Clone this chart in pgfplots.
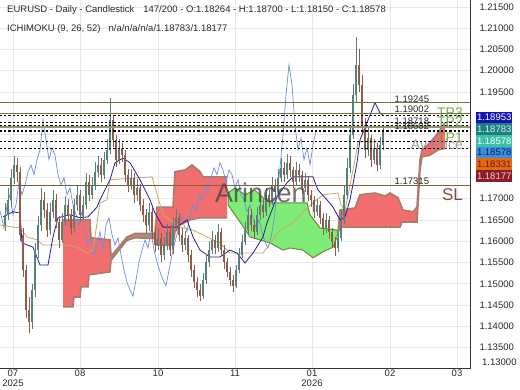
\documentclass[border=0pt]{standalone}
\usepackage{fontspec}
\setmainfont{Liberation Sans}
\usepackage{pgfplots}
\pgfplotsset{compat=1.18}
\usepackage{pgfplotstable}

\definecolor{upc}{RGB}{88,128,122}
\definecolor{dnc}{RGB}{142,92,72}
\definecolor{cloudred}{RGB}{242,110,110}
\definecolor{cloudgreen}{RGB}{128,236,120}
\definecolor{cloudline}{RGB}{168,124,104}
\definecolor{bandc}{RGB}{178,140,118}
\definecolor{greenline}{RGB}{100,140,60}
\definecolor{tenkanc}{RGB}{30,30,150}
\definecolor{kijunc}{RGB}{200,168,104}
\definecolor{chikouc}{RGB}{110,140,220}
\definecolor{olivel}{RGB}{110,120,50}
\definecolor{thickl}{RGB}{150,150,110}
\definecolor{slline}{RGB}{120,100,50}
\definecolor{gridc}{RGB}{232,232,232}
\definecolor{tpc}{RGB}{95,155,45}
\definecolor{slc}{RGB}{140,74,58}
\definecolor{txt}{RGB}{40,40,40}

\pgfplotstableread{
x o h l c
5 1.1640 1.1690 1.1625 1.1662
8 1.1662 1.1725 1.1650 1.1697
11 1.1697 1.1770 1.1680 1.1749
14 1.1749 1.1800 1.1735 1.1779
17 1.1779 1.1795 1.1740 1.1763
20 1.1763 1.1775 1.1600 1.1615
23 1.1615 1.1630 1.1515 1.1532
26 1.1532 1.1545 1.1420 1.1439
29 1.1439 1.1470 1.1385 1.1410
32 1.1410 1.1500 1.1395 1.1485
35 1.1485 1.1595 1.1470 1.1579
38 1.1579 1.1660 1.1560 1.1638
41 1.1638 1.1725 1.1625 1.1697
44 1.1697 1.1715 1.1655 1.1673
47 1.1673 1.1690 1.1610 1.1626
50 1.1626 1.1690 1.1615 1.1669
53 1.1669 1.1720 1.1655 1.1697
56 1.1697 1.1710 1.1630 1.1645
59 1.1645 1.1660 1.1585 1.1603
62 1.1603 1.1665 1.1595 1.1645
65 1.1645 1.1705 1.1635 1.1685
68 1.1685 1.1700 1.1645 1.1662
71 1.1662 1.1675 1.1615 1.1631
74 1.1631 1.1700 1.1620 1.1685
77 1.1685 1.1730 1.1670 1.1709
80 1.1709 1.1720 1.1645 1.1662
83 1.1662 1.1705 1.1650 1.1685
86 1.1685 1.1760 1.1675 1.1739
89 1.1739 1.1755 1.1695 1.1709
92 1.1709 1.1750 1.1700 1.1732
95 1.1732 1.1785 1.1720 1.1762
98 1.1762 1.1800 1.1750 1.1779
101 1.1779 1.1795 1.1740 1.1756
104 1.1756 1.1810 1.1745 1.1791
107 1.1791 1.1840 1.1780 1.1814
110 1.1814 1.1935 1.1805 1.1885
113 1.1885 1.1895 1.1820 1.1838
116 1.1838 1.1850 1.1775 1.1791
119 1.1791 1.1840 1.1780 1.1819
122 1.1819 1.1830 1.1785 1.1802
125 1.1802 1.1815 1.1740 1.1756
128 1.1756 1.1770 1.1715 1.1732
131 1.1732 1.1770 1.1720 1.1749
134 1.1749 1.1760 1.1690 1.1709
137 1.1709 1.1745 1.1695 1.1725
140 1.1725 1.1735 1.1670 1.1685
143 1.1685 1.1700 1.1645 1.1662
146 1.1662 1.1675 1.1620 1.1638
149 1.1638 1.1690 1.1625 1.1669
152 1.1669 1.1680 1.1605 1.1622
155 1.1622 1.1635 1.1575 1.1591
158 1.1591 1.1630 1.1580 1.1608
161 1.1608 1.1620 1.1550 1.1568
164 1.1568 1.1610 1.1555 1.1591
167 1.1591 1.1640 1.1580 1.1622
170 1.1622 1.1635 1.1565 1.1579
173 1.1579 1.1655 1.1570 1.1638
176 1.1638 1.1675 1.1625 1.1655
179 1.1655 1.1665 1.1600 1.1615
182 1.1615 1.1630 1.1575 1.1591
185 1.1591 1.1625 1.1580 1.1608
188 1.1608 1.1615 1.1550 1.1568
191 1.1568 1.1580 1.1515 1.1532
194 1.1532 1.1545 1.1490 1.1504
197 1.1504 1.1515 1.1470 1.1485
200 1.1485 1.1500 1.1460 1.1471
203 1.1471 1.1525 1.1465 1.1509
206 1.1509 1.1570 1.1500 1.1551
209 1.1551 1.1600 1.1540 1.1579
212 1.1579 1.1625 1.1570 1.1603
215 1.1603 1.1615 1.1570 1.1584
218 1.1584 1.1640 1.1575 1.1622
221 1.1622 1.1630 1.1565 1.1579
224 1.1579 1.1590 1.1535 1.1551
227 1.1551 1.1560 1.1515 1.1528
230 1.1528 1.1540 1.1495 1.1509
233 1.1509 1.1520 1.1480 1.1495
236 1.1495 1.1545 1.1490 1.1532
239 1.1532 1.1585 1.1525 1.1568
242 1.1568 1.1615 1.1560 1.1598
245 1.1598 1.1645 1.1590 1.1626
248 1.1626 1.1680 1.1615 1.1662
251 1.1662 1.1675 1.1625 1.1638
254 1.1638 1.1650 1.1605 1.1622
257 1.1622 1.1680 1.1615 1.1662
260 1.1662 1.1705 1.1650 1.1685
263 1.1685 1.1700 1.1655 1.1669
266 1.1669 1.1725 1.1660 1.1709
269 1.1709 1.1720 1.1680 1.1692
272 1.1692 1.1750 1.1685 1.1732
275 1.1732 1.1745 1.1700 1.1716
278 1.1716 1.1770 1.1705 1.1749
281 1.1749 1.1795 1.1740 1.1772
284 1.1772 1.1785 1.1740 1.1756
287 1.1756 1.1805 1.1745 1.1784
290 1.1784 1.1800 1.1750 1.1767
293 1.1767 1.1775 1.1725 1.1739
296 1.1739 1.1785 1.1730 1.1767
299 1.1767 1.1780 1.1740 1.1756
302 1.1756 1.1765 1.1710 1.1725
305 1.1725 1.1760 1.1715 1.1744
308 1.1744 1.1750 1.1695 1.1709
311 1.1709 1.1720 1.1680 1.1697
314 1.1697 1.1705 1.1655 1.1669
317 1.1669 1.1700 1.1660 1.1685
320 1.1685 1.1695 1.1640 1.1655
323 1.1655 1.1665 1.1615 1.1631
326 1.1631 1.1665 1.1620 1.1650
329 1.1650 1.1660 1.1605 1.1622
332 1.1622 1.1630 1.1585 1.1598
335 1.1598 1.1610 1.1565 1.1584
338 1.1584 1.1625 1.1575 1.1608
341 1.1608 1.1670 1.1600 1.1650
344 1.1650 1.1730 1.1640 1.1709
347 1.1709 1.1795 1.1700 1.1772
350 1.1772 1.1870 1.1760 1.1849
353 1.1849 1.1970 1.1840 1.1943
356 1.1943 1.2080 1.1925 1.2014
359 1.2014 1.2050 1.1950 1.1967
362 1.1967 1.1990 1.1855 1.1873
365 1.1873 1.1890 1.1795 1.1814
368 1.1814 1.1865 1.1800 1.1842
371 1.1842 1.1850 1.1775 1.1791
374 1.1791 1.1840 1.1780 1.1819
377 1.1819 1.1830 1.1765 1.1779
380 1.1779 1.1845 1.1770 1.1826
383 1.18264 1.18700 1.18150 1.18578
}\candles

\begin{document}
\begin{tikzpicture}[font=\fontsize{9.5}{11}\selectfont]
\begin{axis}[
  name=ax, at={(0,0)}, anchor=south west,
  scale only axis, width=470pt, height=369pt,
  xmin=0, xmax=470, ymin=1.13, ymax=1.2166,
  axis x line*=bottom, axis y line*=right,
  axis line style={-, draw=black!80, line width=1pt},
  clip mode=individual,
  xtick={13,80,158,235,312,390,457},
  xticklabels={{07\\2025},08,10,11,{01\\2026},02,03},
  xticklabel style={align=center, text=txt, font=\fontsize{9.5}{9.5}\selectfont, inner sep=1pt},
  ytick={1.135,1.14,1.145,1.15,1.155,1.16,1.165,1.17,1.195,1.2,1.205,1.21,1.215},
  extra y ticks={1.175,1.18,1.185,1.19},
  extra y tick labels={},
  yticklabel style={anchor=west, xshift=6pt, text=txt, /pgf/number format/.cd, fixed, fixed zerofill, precision=5},
  /pgf/number format/assume math mode=true,
  tick style={draw=none},
  grid=major, major grid style={gridc, line width=0.6pt},
  unbounded coords=discard,
  candle/.style 2 args={draw=none, mark=none, error bars/.cd, y dir=plus, y explicit, error mark=none, error bar style={draw=#1, solid, line width=#2}, /pgfplots/.cd},
]
% ---- cloud fills
\addplot[fill=cloudred, draw=none] coordinates {(63,1.1650) (90,1.1650) (91,1.1608) (110,1.1603) (110,1.1528) (89,1.1521) (88,1.1493) (81,1.1493) (80,1.1469) (74,1.1469) (73,1.1446) (63,1.1446)} -- cycle;
\addplot[fill=bandc, draw=none] coordinates {(110,1.1603) (111,1.1565) (120,1.1590) (127,1.1610) (135,1.1618) (155,1.1618) (155,1.1606) (135,1.1608) (127,1.1602) (120,1.1582) (111,1.1555) (110,1.1528)} -- cycle;
\addplot[fill=cloudred, draw=none] coordinates {(155,1.1618) (157,1.1680) (173,1.1680) (175,1.1763) (185,1.1767) (192,1.1779) (200,1.1763) (203,1.1751) (227,1.1751) (227,1.1655) (200,1.1655) (190,1.1650) (180,1.1638) (175,1.1622) (173,1.1591) (157,1.1591) (155,1.1606)} -- cycle;
\addplot[fill=cloudgreen, draw=greenline, line width=1pt] coordinates {(228,1.1713) (235,1.1725) (245,1.1709) (255,1.1720) (262,1.1704) (270,1.1690) (307,1.1690) (310,1.1662) (320,1.1631) (337,1.1626) (338,1.1620) (337,1.1610) (333,1.1586) (323,1.1575) (313,1.1561) (303,1.1579) (290,1.1584) (283,1.1579) (270,1.1596) (260,1.1603) (250,1.1610) (240,1.1645) (228,1.1685)} -- cycle;
\addplot[fill=cloudred, draw=none] coordinates {(338,1.1620) (340,1.1673) (355,1.1678) (360,1.1709) (375,1.1713) (385,1.1706) (390,1.1713) (398,1.1702) (403,1.1673) (413,1.1669) (417,1.1680) (420,1.1791) (422,1.1814) (430,1.1831) (438,1.1854) (445,1.1878) (445,1.1818) (438,1.1814) (430,1.1802) (422,1.1798) (420,1.1767) (417,1.1645) (402,1.1645) (400,1.1633) (340,1.1633)} -- cycle;
% ---- senkou lines
\addplot[cloudline, line width=1.6pt] coordinates {(63,1.1650) (90,1.1650) (91,1.1608) (110,1.1603) (111,1.1565) (120,1.1590) (127,1.1610) (135,1.1618) (155,1.1618) (157,1.1680) (173,1.1680) (175,1.1763) (185,1.1767) (192,1.1779) (200,1.1763) (203,1.1751) (227,1.1751)};
\addplot[cloudline, line width=1.6pt] coordinates {(63,1.1446) (73,1.1446) (74,1.1469) (80,1.1469) (81,1.1493) (88,1.1493) (89,1.1521) (110,1.1528) (111,1.1555) (120,1.1582) (127,1.1602) (135,1.1608) (155,1.1606) (157,1.1591) (173,1.1591) (175,1.1622) (180,1.1638) (190,1.1650) (200,1.1655) (227,1.1655)};
\addplot[cloudline, line width=1.6pt] coordinates {(338,1.1620) (340,1.1673) (355,1.1678) (360,1.1709) (375,1.1713) (385,1.1706) (390,1.1713) (398,1.1702) (403,1.1673) (413,1.1669) (417,1.1680) (420,1.1791) (422,1.1814) (430,1.1831) (438,1.1854) (445,1.1878)};
\addplot[cloudline, line width=1.6pt] coordinates {(338,1.1620) (340,1.1633) (400,1.1633) (402,1.1645) (417,1.1645) (420,1.1767) (422,1.1798) (430,1.1802) (438,1.1814) (445,1.1818)};
% ---- chikou (closes shifted back 26 bars)
\addplot[chikouc, line width=0.7pt] table[x expr=\thisrow{x}-67, y=c] {\candles};
% ---- kijun
\addplot[kijunc, line width=0.8pt] coordinates {(0,1.1638) (20,1.1631) (27,1.1610) (37,1.1603) (43,1.1591) (67,1.1591) (77,1.1586) (87,1.1572) (93,1.1579) (97,1.1643) (100,1.1690) (107,1.1697) (110,1.1744) (152,1.1751) (155,1.1727) (163,1.1662) (180,1.1633) (193,1.1626) (213,1.1603) (220,1.1596) (230,1.1572) (263,1.1572) (280,1.1626) (293,1.1643) (303,1.1669) (313,1.1690) (323,1.1709) (338,1.1713) (341,1.1685) (345,1.1673) (350,1.1732) (355,1.1791) (358,1.1833) (383,1.18331)};
% ---- tenkan
\addplot[tenkanc, line width=0.8pt] coordinates {(3,1.1657) (13,1.1669) (20,1.1666) (22,1.1596) (33,1.1586) (40,1.1544) (48,1.1544) (53,1.1610) (58,1.1655) (70,1.1662) (80,1.1655) (88,1.1657) (97,1.1680) (100,1.1697) (110,1.1744) (115,1.1784) (123,1.1795) (130,1.1784) (140,1.1744) (150,1.1697) (155,1.1666) (163,1.1633) (177,1.1633) (187,1.1650) (193,1.1610) (200,1.1579) (210,1.1563) (220,1.1563) (230,1.1579) (237,1.1572) (245,1.1549) (253,1.1572) (263,1.1610) (267,1.1643) (277,1.1704) (287,1.1737) (293,1.1751) (313,1.1751) (318,1.1720) (327,1.1697) (333,1.1680) (340,1.1650) (345,1.1657) (350,1.1697) (357,1.1784) (360,1.1838) (367,1.1878) (375,1.1925) (380,1.1901) (383,1.18953)};
% ---- candles: wicks
\addplot[candle={upc}{0.6pt}]
  table[x=x, y expr={\thisrow{c}>=\thisrow{o} ? \thisrow{l} : nan}, y error expr={\thisrow{h}-\thisrow{l}}] {\candles};
\addplot[candle={dnc}{0.6pt}]
  table[x=x, y expr={\thisrow{c}<\thisrow{o} ? \thisrow{l} : nan}, y error expr={\thisrow{h}-\thisrow{l}}] {\candles};
% ---- candles: bodies
\addplot[candle={upc}{1.3pt}]
  table[x=x, y expr={\thisrow{c}>=\thisrow{o} ? \thisrow{o} : nan}, y error expr={\thisrow{c}-\thisrow{o}}] {\candles};
\addplot[candle={dnc}{1.3pt}]
  table[x=x, y expr={\thisrow{c}<\thisrow{o} ? \thisrow{c} : nan}, y error expr={\thisrow{o}-\thisrow{c}}] {\candles};
% ---- level lines
\addplot[olivel, line width=0.8pt] coordinates {(0,1.19245) (470,1.19245)};
\addplot[olivel, line width=0.8pt] coordinates {(0,1.19002) (470,1.19002)};
\addplot[thickl, line width=1.5pt] coordinates {(0,1.18680) (470,1.18680)};
\addplot[slline, line width=0.8pt] coordinates {(0,1.17315) (470,1.17315)};
\addplot[black, line width=0.7pt, dash pattern=on 2.2pt off 2pt] coordinates {(0,1.18953) (470,1.18953)};
\addplot[black, line width=0.7pt, dash pattern=on 2.2pt off 2pt] coordinates {(0,1.18783) (470,1.18783)};
\addplot[black, line width=0.7pt, dash pattern=on 2.2pt off 2pt] coordinates {(0,1.18718) (470,1.18718)};
\addplot[black, line width=0.7pt, dash pattern=on 2.2pt off 2pt] coordinates {(0,1.18602) (470,1.18602)};
\addplot[black, line width=0.7pt, dash pattern=on 2.2pt off 2pt] coordinates {(0,1.18578) (470,1.18578)};
\addplot[black, line width=0.7pt, dash pattern=on 2.2pt off 2pt] coordinates {(0,1.18331) (470,1.18331)};
\addplot[black, line width=0.7pt, dash pattern=on 2.2pt off 2pt] coordinates {(0,1.18177) (470,1.18177)};
% ---- level labels
\node[anchor=south west, inner sep=0.5pt, text=txt] at (axis cs:394,1.19245) {1.19245};
\node[anchor=south west, inner sep=0.5pt, text=txt] at (axis cs:394,1.19002) {1.19002};
\node[anchor=south west, inner sep=0.5pt, text=txt] at (axis cs:394,1.18718) {1.18718};
\node[anchor=south west, inner sep=0.5pt, text=txt] at (axis cs:394,1.18602) {1.18602};
\node[anchor=south west, inner sep=0.5pt, text=txt] at (axis cs:394,1.17315) {1.17315};
% ---- watermark and trade labels
\node[text=black!75, opacity=0.75, font=\fontsize{27}{27}\selectfont] at (axis cs:261,1.1713) {Arincen};
\node[anchor=east, text=black!45, opacity=0.8, font=\fontsize{14}{14}\selectfont, inner sep=0pt] at (axis cs:463,1.1826) {Av Price};
\node[anchor=east, text=tpc, opacity=0.85, font=\fontsize{14}{14}\selectfont, inner sep=0pt] at (axis cs:463,1.1901) {TP3};
\node[anchor=east, text=tpc, opacity=0.85, font=\fontsize{14}{14}\selectfont, inner sep=0pt] at (axis cs:463,1.1880) {TP2};
\node[anchor=east, text=tpc, opacity=0.85, font=\fontsize{14}{14}\selectfont, inner sep=0pt] at (axis cs:463,1.1842) {TP1};
\node[anchor=east, text=slc, font=\fontsize{17}{17}\selectfont, inner sep=0pt] at (axis cs:463,1.1709) {SL};
\end{axis}
% header text
\node[anchor=west, text=txt, inner sep=0pt] at (7pt,359pt) {EURUSD - Daily - Candlestick\hspace{9pt}147/200 - O:1.18264 - H:1.18700 - L:1.18150 - C:1.18578};
\node[anchor=west, text=txt, inner sep=0pt] at (7pt,340pt) {ICHIMOKU (9, 26, 52)\hspace{8pt}n/a/n/a/n/a/1.18783/1.18177};
% right value boxes
\tikzset{vbox/.style={minimum width=36pt, minimum height=11.7pt, inner sep=0pt, anchor=west}}
\node[vbox, fill={rgb,255:red,20;green,20;blue,180}, text=white] at (476pt,251.5pt) {1.18953};
\node[vbox, fill={rgb,255:red,31;green,127;blue,128}, text={rgb,255:red,210;green,240;blue,240}] at (476pt,239.8pt) {1.18783};
\node[vbox, fill={rgb,255:red,60;green,192;blue,168}, text=white] at (476pt,228.1pt) {1.18578};
\node[vbox, fill={rgb,255:red,60;green,140;blue,224}, text={rgb,255:red,16;green,32;blue,80}] at (476pt,216.4pt) {1.18578};
\node[vbox, fill={rgb,255:red,224;green,106;blue,16}, text={rgb,255:red,128;green,16;blue,16}] at (476pt,204.7pt) {1.18331};
\node[vbox, fill={rgb,255:red,140;green,28;blue,44}, text={rgb,255:red,240;green,208;blue,208}] at (476pt,193.0pt) {1.18177};
\node[anchor=west, text=txt, inner sep=0pt] at (482pt,7pt) {1.13000};
\pgfresetboundingbox
\path[use as bounding box] (0,-21pt) rectangle (520pt,369pt);
\end{tikzpicture}
\end{document}
